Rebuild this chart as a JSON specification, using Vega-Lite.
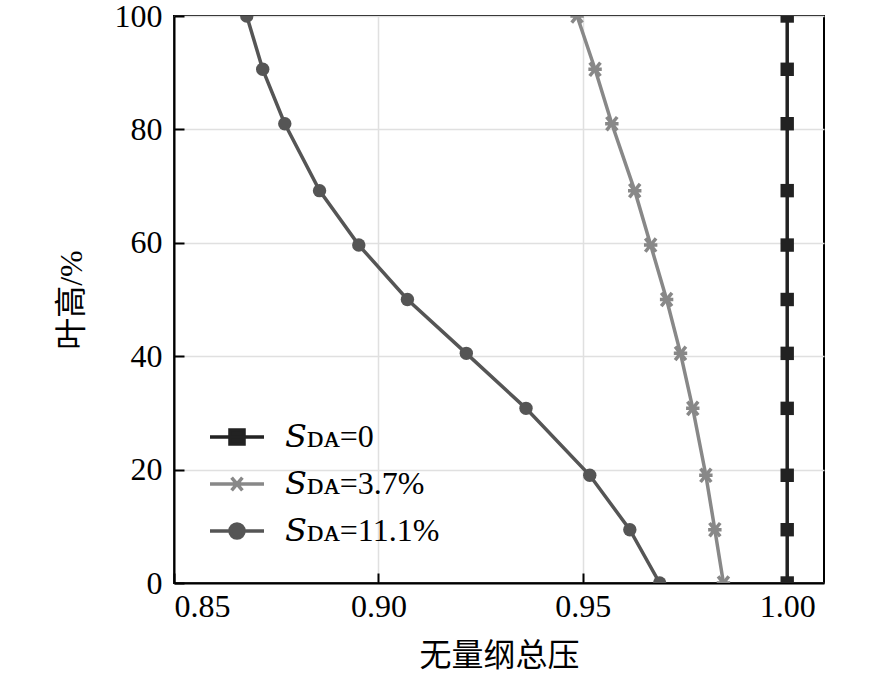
{
  "$schema": "https://vega.github.io/schema/vega-lite/v6.json",
  "width": 650,
  "height": 567,
  "autosize": "none",
  "padding": {"left": 174, "top": 16, "right": 62, "bottom": 102},
  "background": "white",
  "config": {
    "view": {"stroke": "black", "strokeWidth": 2},
    "font": "Liberation Serif",
    "axis": {
      "labelFontSize": 32,
      "labelColor": "black",
      "titleFontSize": 32,
      "titleFontWeight": "normal",
      "titleColor": "black",
      "domainColor": "black",
      "domainWidth": 2,
      "tickColor": "black",
      "tickWidth": 2,
      "tickSize": -10,
      "gridColor": "#e0e0e0",
      "gridWidth": 1.5
    }
  },
  "data": {
    "values": [
      {"s": "A", "p": 1.0, "h": 0},
      {"s": "A", "p": 1.0, "h": 9.4},
      {"s": "A", "p": 1.0, "h": 19},
      {"s": "A", "p": 1.0, "h": 30.8},
      {"s": "A", "p": 1.0, "h": 40.5},
      {"s": "A", "p": 1.0, "h": 50},
      {"s": "A", "p": 1.0, "h": 59.6},
      {"s": "A", "p": 1.0, "h": 69.2},
      {"s": "A", "p": 1.0, "h": 81},
      {"s": "A", "p": 1.0, "h": 90.6},
      {"s": "A", "p": 1.0, "h": 100},
      {"s": "B", "p": 0.9844, "h": 0},
      {"s": "B", "p": 0.9823, "h": 9.4},
      {"s": "B", "p": 0.9801, "h": 19},
      {"s": "B", "p": 0.9769, "h": 30.8},
      {"s": "B", "p": 0.9739, "h": 40.5},
      {"s": "B", "p": 0.9705, "h": 50},
      {"s": "B", "p": 0.9666, "h": 59.6},
      {"s": "B", "p": 0.9627, "h": 69.2},
      {"s": "B", "p": 0.9571, "h": 81},
      {"s": "B", "p": 0.9530, "h": 90.6},
      {"s": "B", "p": 0.9486, "h": 100},
      {"s": "C", "p": 0.9688, "h": 0},
      {"s": "C", "p": 0.9615, "h": 9.4},
      {"s": "C", "p": 0.9517, "h": 19},
      {"s": "C", "p": 0.9361, "h": 30.8},
      {"s": "C", "p": 0.9215, "h": 40.5},
      {"s": "C", "p": 0.9071, "h": 50},
      {"s": "C", "p": 0.8952, "h": 59.6},
      {"s": "C", "p": 0.8856, "h": 69.2},
      {"s": "C", "p": 0.8771, "h": 81},
      {"s": "C", "p": 0.8717, "h": 90.6},
      {"s": "C", "p": 0.8678, "h": 100}
    ]
  },
  "encoding": {
    "x": {
      "field": "p",
      "type": "quantitative",
      "title": "无量纲总压",
      "scale": {"domain": [0.85, 1.009], "nice": false, "zero": false},
      "axis": {
        "values": [0.85, 0.9, 0.95, 1.0],
        "format": ".2f",
        "labelFont": "Liberation Serif",
        "titleFont": "Liberation Serif, Noto Sans CJK SC",
        "labelPadding": 18,
        "titlePadding": 18
      }
    },
    "y": {
      "field": "h",
      "type": "quantitative",
      "title": "叶高/%",
      "scale": {"domain": [0, 100], "nice": false},
      "axis": {
        "values": [0, 20, 40, 60, 80, 100],
        "labelFont": "Liberation Serif",
        "titleFont": "Liberation Serif, Noto Sans CJK SC",
        "labelPadding": 22,
        "titlePadding": 26
      }
    },
    "color": {
      "field": "s",
      "type": "nominal",
      "scale": {"domain": ["A", "B", "C"], "range": ["#222222", "#888888", "#555555"]},
      "legend": {
        "orient": "none",
        "legendX": 43,
        "legendY": 401,
        "title": null,
        "padding": 0,
        "symbolSize": 1296,
        "symbolStrokeWidth": 3,
        "labelFont": "Liberation Serif, DejaVu Serif",
        "labelFontSize": 32,
        "labelColor": "black",
        "labelOffset": 28,
        "rowPadding": 11,
        "labelExpr": "datum.value === 'A' ? '𝑆ᴅᴀ=0' : datum.value === 'B' ? '𝑆ᴅᴀ=3.7%' : '𝑆ᴅᴀ=11.1%'",
        "encode": {
          "symbols": {
            "update": {
              "shape": {"signal": "datum.value === 'A' ? 'M-1.5,0H1.5M-0.39,-0.39H0.39V0.39H-0.39Z' : datum.value === 'B' ? 'M-1.5,0H1.5M-0.3,-0.36L0.3,0.36M-0.3,0.36L0.3,-0.36M-0.36,0H0.36' : 'M-1.5,0H1.5M0.39,0A0.39,0.39 0 1,1 -0.39,0A0.39,0.39 0 1,1 0.39,0Z'"},
              "fill": {"scale": "color", "field": "value"},
              "stroke": {"scale": "color", "field": "value"},
              "fillOpacity": {"value": 1},
              "strokeOpacity": {"value": 1},
              "strokeWidth": {"value": 3.5}
            }
          }
        }
      }
    }
  },
  "layer": [
    {
      "mark": {"type": "line", "strokeWidth": 3.5, "clip": true},
      "encoding": {"order": {"field": "h", "type": "quantitative"}}
    },
    {
      "transform": [{"filter": "datum.s === 'A'"}],
      "mark": {"type": "point", "shape": "square", "filled": true, "opacity": 1, "size": 180, "clip": true}
    },
    {
      "transform": [{"filter": "datum.s === 'B'"}],
      "mark": {"type": "point", "shape": "M-0.8,-1L0.8,1M-0.8,1L0.8,-1M-1,0H1", "filled": false, "opacity": 1, "size": 180, "strokeWidth": 3.5, "clip": true}
    },
    {
      "transform": [{"filter": "datum.s === 'C'"}],
      "mark": {"type": "point", "shape": "circle", "filled": true, "opacity": 1, "size": 180, "clip": true}
    }
  ]
}
